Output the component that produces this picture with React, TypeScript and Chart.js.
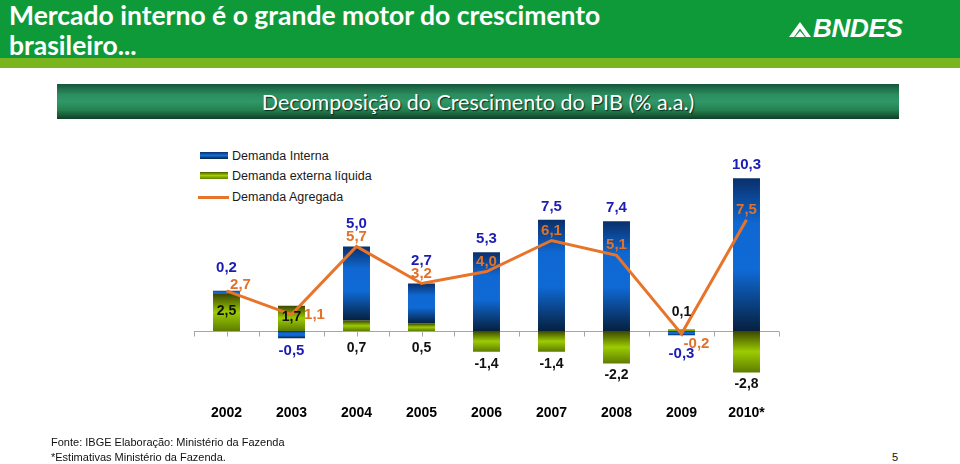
import React, { useEffect, useRef } from "react";
import { Chart, registerables } from "chart.js";

Chart.register(...registerables);

const years = ["2002", "2003", "2004", "2005", "2006", "2007", "2008", "2009", "2010*"];
const demandaInterna = [0.2, -0.5, 5.0, 2.7, 5.3, 7.5, 7.4, -0.3, 10.3];
const demandaExterna = [2.5, 1.7, 0.7, 0.5, -1.4, -1.4, -2.2, 0.1, -2.8];
const demandaAgregada = [2.7, 1.1, 5.7, 3.2, 4.0, 6.1, 5.1, -0.2, 7.5];
const agregadaLabelSide = ["right", "far-right", "above", "above", "above", "above", "above", "below-right", "above"];

const yMin = -4;
const yMax = 12;

const fmt = (v: number) => v.toFixed(1).replace(".", ",");

function segment(i: number, which: "ext" | "int"): [number, number] {
  const g = demandaExterna[i];
  const b = demandaInterna[i];
  if (which === "ext") return [0, g];
  if ((g >= 0 && b >= 0) || (g < 0 && b < 0)) return [g, g + b];
  return [0, b];
}

function barGradient(ctx: any, which: "ext" | "int") {
  const chart = ctx.chart;
  const fallback = which === "int" ? "#0e6ad8" : "#8fbf00";
  if (!chart.chartArea || ctx.type !== "data") return fallback;
  const y = chart.scales.y;
  const [a, b] = segment(ctx.dataIndex, which);
  const p1 = y.getPixelForValue(Math.max(a, b));
  const p2 = y.getPixelForValue(Math.min(a, b));
  if (!isFinite(p1) || !isFinite(p2) || Math.abs(p2 - p1) < 1) return fallback;
  const g = chart.ctx.createLinearGradient(0, p1, 0, p2);
  if (which === "int") {
    g.addColorStop(0, "#0a2f6a");
    g.addColorStop(0.3, "#0f68d2");
    g.addColorStop(0.6, "#0f6ad6");
    g.addColorStop(1, "#06203f");
  } else {
    g.addColorStop(0, "#3a4600");
    g.addColorStop(0.5, "#9ccc00");
    g.addColorStop(1, "#5e7c00");
  }
  return g;
}

const zeroAxisPlugin = {
  id: "zeroAxis",
  beforeDatasetsDraw(chart: any) {
    const { ctx, chartArea, scales } = chart;
    const x = scales.x;
    const y0 = scales.y.getPixelForValue(0);
    const w = x.getPixelForValue(1) - x.getPixelForValue(0);
    ctx.save();
    ctx.strokeStyle = "#a6a6a6";
    ctx.lineWidth = 1;
    ctx.beginPath();
    ctx.moveTo(chartArea.left, Math.round(y0) + 0.5);
    ctx.lineTo(chartArea.right, Math.round(y0) + 0.5);
    for (let k = 0; k <= years.length * 2; k++) {
      const px = Math.round(chartArea.left + (k * w) / 2) + 0.5;
      ctx.moveTo(px, Math.round(y0) + 0.5);
      ctx.lineTo(px, Math.round(y0) + 5.5);
    }
    ctx.stroke();
    ctx.restore();
  },
};

const labelsPlugin = {
  id: "valueLabels",
  afterDatasetsDraw(chart: any) {
    const { ctx, scales } = chart;
    const y = scales.y;
    const extMeta = chart.getDatasetMeta(1);
    const intMeta = chart.getDatasetMeta(2);
    const lineMeta = chart.getDatasetMeta(0);
    const y0 = y.getPixelForValue(0);
    ctx.save();
    ctx.textAlign = "center";
    ctx.textBaseline = "middle";
    for (let i = 0; i < years.length; i++) {
      const g = demandaExterna[i];
      const b = demandaInterna[i];
      const ext = extMeta.data[i];
      const int = intMeta.data[i];
      const side = agregadaLabelSide[i];
      const top = y.getPixelForValue(Math.max(...segment(i, "int"), ...segment(i, "ext")));
      // Demanda Interna labels (blue)
      ctx.font = "bold 15px 'Liberation Sans', Arial, sans-serif";
      ctx.fillStyle = "#1c1cb4";
      if (b >= 0) {
        const off = g > 0.3 ? 23 : 13;
        ctx.fillText(fmt(b), int.x, top - off);
      } else {
        const bottom = y.getPixelForValue(Math.min(...segment(i, "int")));
        ctx.fillText(fmt(b), int.x, bottom + (side === "below-right" ? 19 : 13));
      }
      // Demanda externa labels (black)
      ctx.fillStyle = "#111111";
      ctx.font = "bold 14px 'Liberation Sans', Arial, sans-serif";
      if (g >= 1) {
        ctx.fillText(fmt(g), ext.x, (y0 + y.getPixelForValue(g)) / 2 - 1);
      } else if (g >= 0 && b < 0) {
        ctx.fillText(fmt(g), ext.x, y.getPixelForValue(g) - 17);
      } else if (g >= 0) {
        ctx.fillText(fmt(g), ext.x, y0 + 17);
      } else {
        ctx.fillText(fmt(g), ext.x, y.getPixelForValue(g) + 12);
      }
      // Demanda Agregada labels (orange)
      ctx.font = "bold 15px 'Liberation Sans', Arial, sans-serif";
      const pt = lineMeta.data[i];
      ctx.fillStyle = "#e0722a";
      let dx = 0;
      let dy = -10;
      if (side === "right") { dx = 14; dy = -6; }
      if (side === "far-right") { dx = 23; dy = 0; }
      if (side === "below-right") { dx = 15; dy = 10; }
      ctx.fillText(fmt(demandaAgregada[i]), pt.x + dx, pt.y + dy);
    }
    ctx.restore();
  },
};

function BndesIcon() {
  return (
    <svg width="22" height="16" viewBox="0 0 22 16" style={{ display: "block" }}>
      <polygon points="0,16 11,1 22,16 17,16 11,7.5 5,16" fill="#ffffff" />
      <polygon points="11,10 16,16 6,16" fill="#ffffff" />
    </svg>
  );
}

export default function App() {
  const canvasRef = useRef<HTMLCanvasElement | null>(null);

  useEffect(() => {
    document.body.style.margin = "0";
    const canvas = canvasRef.current;
    if (!canvas) return;
    const chart = new Chart(canvas, {
      type: "bar",
      data: {
        labels: years,
        datasets: [
          {
            type: "line",
            label: "Demanda Agregada",
            data: demandaAgregada,
            borderColor: "#e8742a",
            borderWidth: 3,
            pointRadius: 0,
            tension: 0,
            fill: false,
            stack: "line",
            order: 0,
          } as any,
          {
            label: "Demanda externa líquida",
            data: demandaExterna,
            backgroundColor: (c: any) => barGradient(c, "ext"),
            borderWidth: 0,
            stack: "bars",
            order: 1,
          },
          {
            label: "Demanda Interna",
            data: demandaInterna,
            backgroundColor: (c: any) => barGradient(c, "int"),
            borderWidth: 0,
            stack: "bars",
            order: 2,
          },
        ],
      },
      options: {
        responsive: false,
        animation: false,
        events: [],
        layout: { padding: { left: 194, right: 181, top: 23, bottom: 13 } },
        datasets: { bar: { barPercentage: 0.415, categoryPercentage: 1 } },
        plugins: { legend: { display: false }, tooltip: { enabled: false } },
        scales: {
          x: {
            stacked: true,
            grid: { display: false, drawTicks: false, tickLength: 0 },
            border: { display: false },
            ticks: {
              padding: 15,
              color: "#000000",
              font: { family: "'Liberation Sans', Arial, sans-serif", size: 14, weight: "bold" },
              maxRotation: 0,
              autoSkip: false,
            },
          },
          y: {
            stacked: true,
            display: false,
            min: yMin,
            max: yMax,
          },
        },
      },
      plugins: [zeroAxisPlugin, labelsPlugin],
    });
    return () => chart.destroy();
  }, []);

  const legendText: React.CSSProperties = {
    position: "absolute",
    left: 232,
    fontFamily: "'Liberation Sans', Arial, sans-serif",
    fontSize: 12.5,
    color: "#1a1a1a",
    lineHeight: "14px",
    whiteSpace: "nowrap",
  };

  return (
    <div style={{ position: "relative", width: 960, height: 464, overflow: "hidden", background: "#ffffff" }}>
      {/* Header */}
      <div style={{ position: "absolute", left: 0, top: 0, width: 960, height: 58, background: "#0f9a3a" }} />
      <div style={{ position: "absolute", left: 0, top: 58, width: 960, height: 10, background: "#79b51f" }} />
      <div
        style={{
          position: "absolute",
          left: 9,
          top: 0,
          width: 720,
          fontFamily: "Lato, 'Open Sans', sans-serif",
          fontWeight: 700,
          fontSize: 26.5,
          lineHeight: "30px",
          color: "#ffffff",
        }}
      >
        Mercado interno é o grande motor do crescimento
        <br />
        brasileiro...
      </div>
      <div style={{ position: "absolute", left: 789, top: 21 }}>
        <BndesIcon />
      </div>
      <div
        style={{
          position: "absolute",
          left: 813,
          top: 13,
          fontFamily: "'Liberation Sans', Arial, sans-serif",
          fontWeight: 700,
          fontStyle: "italic",
          fontSize: 26,
          lineHeight: "30px",
          color: "#ffffff",
          letterSpacing: -0.3,
        }}
      >
        BNDES
      </div>

      {/* Subtitle band */}
      <div
        style={{
          position: "absolute",
          left: 57,
          top: 84,
          width: 842,
          height: 35,
          background: "linear-gradient(to bottom, #16553a 0%, #2b8c5e 30%, #2f9868 50%, #25804f 75%, #0f3f26 100%)",
          display: "flex",
          alignItems: "center",
          justifyContent: "center",
        }}
      >
        <span
          style={{
            fontFamily: "Lato, 'Open Sans', sans-serif",
            fontWeight: 400,
            fontSize: 21.5,
            color: "#ffffff",
            textShadow: "1px 1px 1px #0a2a18",
            whiteSpace: "nowrap",
            marginTop: 1,
          }}
        >
          Decomposição do Crescimento do PIB (% a.a.)
        </span>
      </div>

      {/* Legend */}
      <div
        style={{
          position: "absolute",
          left: 200,
          top: 152,
          width: 28,
          height: 7,
          background: "linear-gradient(to bottom, #0a2f6a, #1270dc 50%, #06203f)",
        }}
      />
      <div style={{ ...legendText, top: 149 }}>Demanda Interna</div>
      <div
        style={{
          position: "absolute",
          left: 200,
          top: 172,
          width: 28,
          height: 7,
          background: "linear-gradient(to bottom, #4a5a00, #a4d000 50%, #5e7c00)",
        }}
      />
      <div style={{ ...legendText, top: 169 }}>Demanda externa líquida</div>
      <div style={{ position: "absolute", left: 198, top: 196, width: 31, height: 3, background: "#e8742a" }} />
      <div style={{ ...legendText, top: 190 }}>Demanda Agregada</div>

      {/* Chart */}
      <canvas
        ref={canvasRef}
        width={960}
        height={320}
        style={{ position: "absolute", left: 0, top: 130, width: 960, height: 320 }}
      />

      {/* Footer */}
      <div
        style={{
          position: "absolute",
          left: 51,
          top: 435,
          fontFamily: "'Liberation Sans', Arial, sans-serif",
          fontSize: 11,
          lineHeight: "15px",
          color: "#111111",
          whiteSpace: "nowrap",
        }}
      >
        Fonte: IBGE Elaboração: Ministério da Fazenda
        <br />
        *Estimativas Ministério da Fazenda.
      </div>
      <div
        style={{
          position: "absolute",
          left: 892,
          top: 451,
          fontFamily: "'Liberation Sans', Arial, sans-serif",
          fontSize: 11,
          color: "#111111",
        }}
      >
        5
      </div>
    </div>
  );
}
